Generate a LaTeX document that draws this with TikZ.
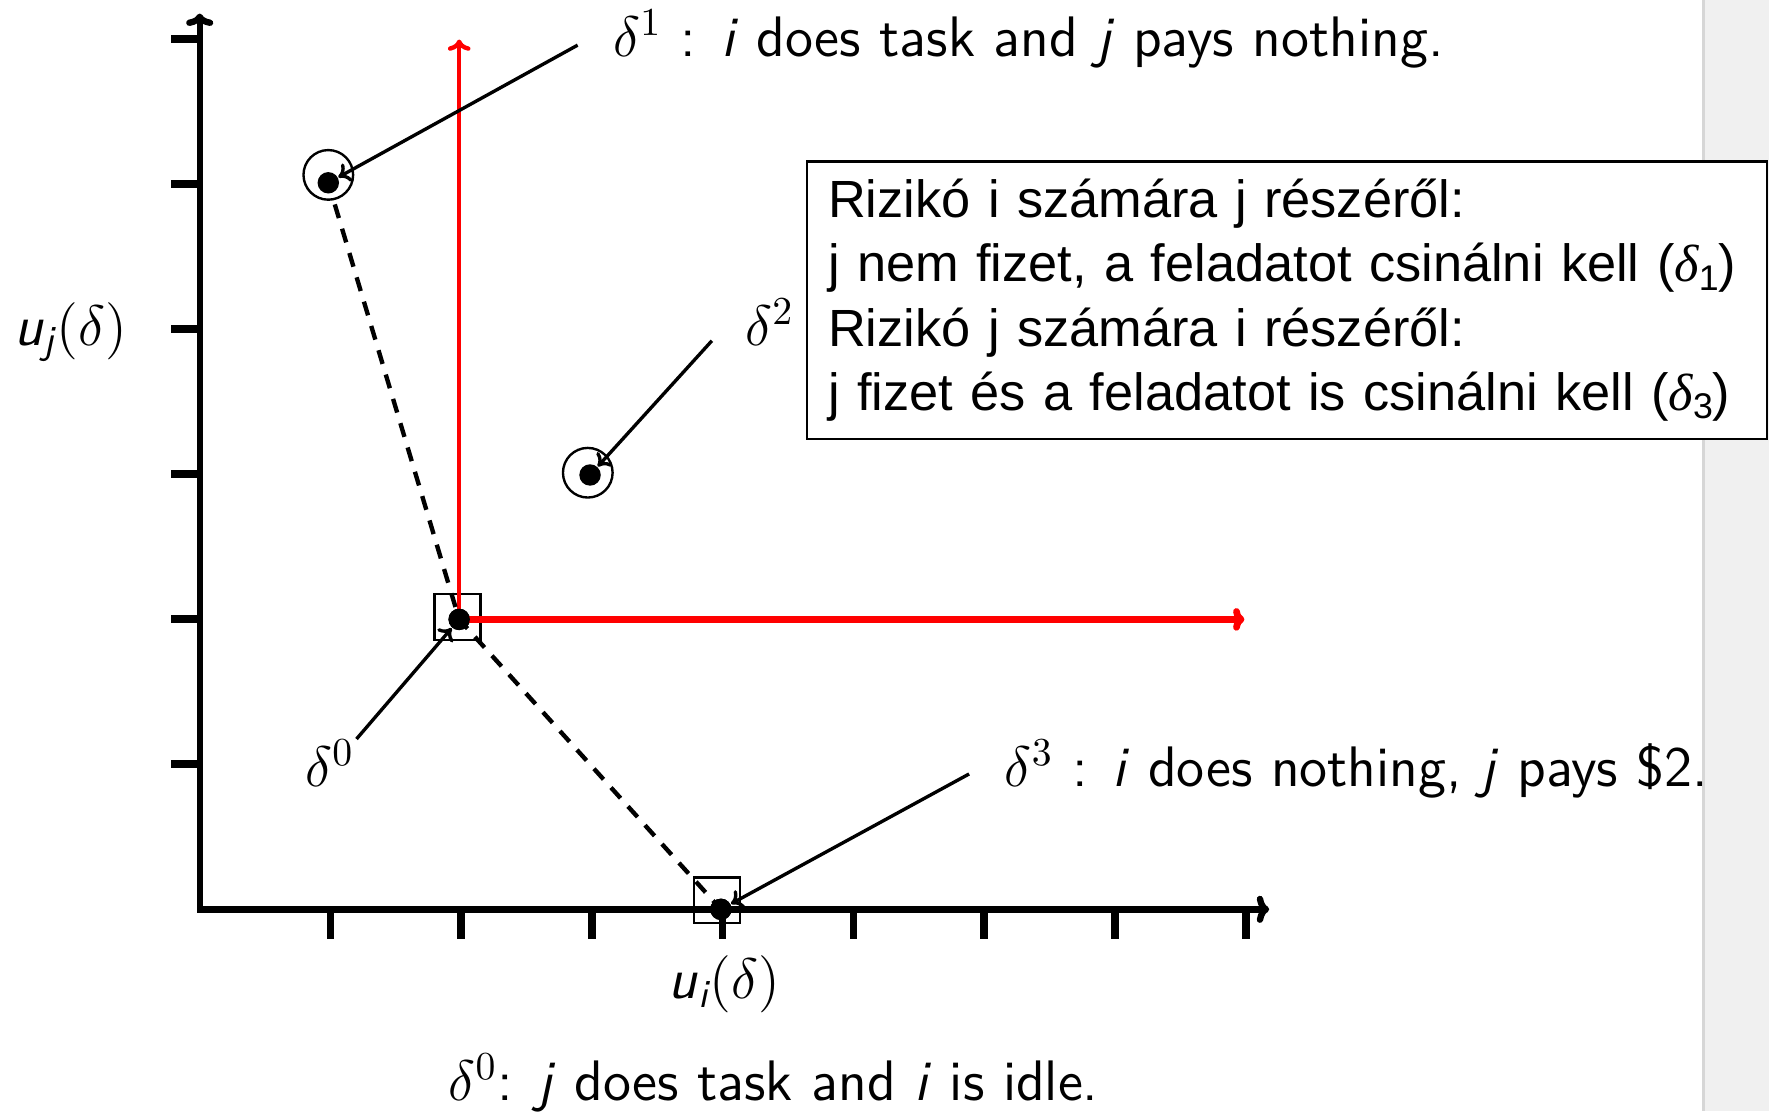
\documentclass[tikz,border=0pt]{standalone}
\usepackage{amsmath}
\usepackage{fontspec}
\newfontfamily\boxfont{Liberation Sans}
\newfontfamily\boxserif{Liberation Serif}
\usetikzlibrary{arrows.meta}
\begin{document}
\begin{tikzpicture}[x=0.1mm,y=-0.1mm,
  axisline/.style={line width=1.6pt},
  tickmark/.style={line width=1.9pt},
  dotnode/.style={circle, fill=black, inner sep=0pt, minimum size=1.9mm},
  ring/.style={circle, draw, line width=0.6pt, inner sep=0pt, minimum size=4.4mm},
  sqnode/.style={rectangle, draw, line width=0.6pt, inner sep=0pt, minimum size=4.05mm},
  ann/.style={line width=0.85pt, -{To[length=1mm,width=1.8mm]}},
  redline/.style={red, -{To[length=1mm,width=2mm]}},
  dashline/.style={line width=1.1pt, dash pattern=on 3.6pt off 2.8pt},
  lab/.style={font=\fontsize{14.4}{17}\selectfont\sffamily, inner sep=0pt, anchor=base west}
]
\useasboundingbox (0,0) rectangle (1568,985);
\fill[white] (0,0) rectangle (1568,985);
% gray strip
\fill[black!6] (1510,0) rectangle (1568,985);
\draw[black!16, line width=0.6pt] (1510,0) -- (1510,985);

% axes
\coordinate (O) at (177,806);
\coordinate (ytop) at (177,12);
\coordinate (xend) at (1125,806);
\draw[axisline, {To[length=1.1mm,width=2.4mm]}-{To[length=1.1mm,width=2.4mm]}] (ytop) -- (O) -- (xend);
\foreach \k in {1,...,8} {
  \draw[tickmark] (177+115.9*\k,806) -- (177+115.9*\k,832);
}
\foreach \k in {1,...,6} {
  \draw[tickmark] (152,806-128.6*\k) -- (177,806-128.6*\k);
}

% points
\node[dotnode] (d1) at (291,162) {};
\node[dotnode] (d2) at (523,421) {};
\node[dotnode] (d0) at (407,549) {};
\node[dotnode] (d3) at (639,806) {};
\node[ring] (r1) at (291,155) {};
\node[ring] (r2) at (521,419) {};
\node[sqnode] (s0) at (405.5,547) {};
\node[sqnode] (s3) at (635.5,798) {};

% red lines
\coordinate (rtop) at (407,35);
\coordinate (rright) at (1103,549);
\draw[redline, line width=1.1pt] (d0.center) -- (rtop);
\draw[redline, line width=1.7pt] (d0.center) -- (rright);

% dashed line
\draw[dashline, shorten <=2mm] (d1.center) -- (d0.center) -- (d3.center);
\node[dotnode] at (d0) {};
\node[dotnode] at (d3) {};

% labels
\node[lab] (t1) at (543,50) {$\delta^{1}$ : \textit{i} does task and \textit{j} pays nothing.};
\node[lab] (t2) at (660,306) {$\delta^{2}$};
\node[lab] (t0) at (270,697) {$\delta^{0}$};
\node[lab] (t3) at (890,697) {$\delta^{3}$ : \textit{i} does nothing, \textit{j} pays \$2.};
\node[lab] (tuj) at (12,306) {\textit{u}$_{\text{\itshape j}}(\delta)$};
\node[lab] (tui) at (592,885) {\textit{u}$_{\text{\itshape i}}(\delta)$};
\node[lab] (tb) at (397,975) {$\delta^{0}$: \textit{j} does task and \textit{i} is idle.};

% annotation arrows
\coordinate (a1) at (512,40);
\coordinate (a2) at (631,302);
\coordinate (a0) at (316,655);
\coordinate (a3) at (859,686);
\draw[ann] (a1) -- (d1);
\draw[ann] (a2) -- (d2);
\draw[ann] (a0) -- (d0);
\draw[ann] (a3) -- (d3);

% box
\node[draw, fill=white, line width=0.6pt, anchor=north west, text width=81.3mm,
      inner xsep=1.9mm, inner ysep=0pt, minimum height=24.6mm, align=left,
      font=\boxfont\fontsize{13.2}{16.2}\selectfont] (box) at (714,142)
  {Rizikó i számára j részéről:\\
   j nem fizet, a feladatot csinálni kell ({\boxserif\itshape δ}\raisebox{-0.3ex}{\fontsize{9}{9}\selectfont 1})\\
   Rizikó j számára i részéről:\\
   j fizet és a feladatot is csinálni kell ({\boxserif\itshape δ}\raisebox{-0.3ex}{\fontsize{9}{9}\selectfont 3})};
\end{tikzpicture}
\end{document}
